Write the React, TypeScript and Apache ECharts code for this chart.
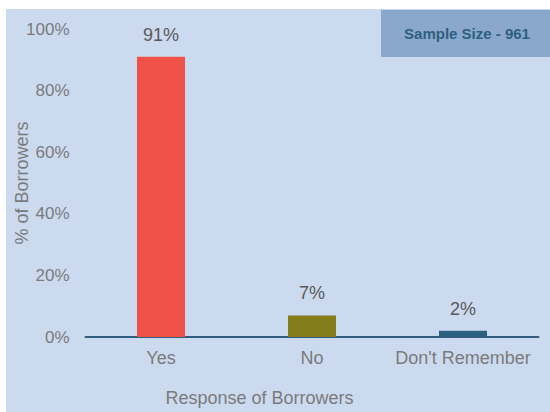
import React, { useEffect, useRef } from "react";
import * as echarts from "echarts";

const categories = ["Yes", "No", "Don't Remember"];
const values = [91, 7, 2];
const barColors = ["#F0524A", "#857D1C", "#2B5F7F"];
const yTicks = [0, 20, 40, 60, 80, 100];
const sampleText = "Sample Size - 961";
const xName = "Response of Borrowers";
const yName = "% of Borrowers";

export default function App() {
  const ref = useRef<HTMLDivElement>(null);
  useEffect(() => {
    if (!ref.current) return;
    const chart = echarts.init(ref.current, null, { renderer: "svg" });
    const font = "'Liberation Sans', Arial, sans-serif";
    chart.setOption({
      animation: false,
      backgroundColor: "#CCDAF0",
      textStyle: { fontFamily: font },
      grid: {
        left: 79.5,
        right: 11.5,
        top: 20,
        bottom: 75,
        containLabel: false,
        outerBoundsMode: "none",
      },
      xAxis: {
        type: "category",
        data: categories,
        axisLine: { show: true, lineStyle: { color: "#2E5F7E", width: 2 } },
        axisTick: { show: false },
        axisLabel: { color: "#7A7A7A", fontSize: 18, margin: 12, interval: 0, fontFamily: font },
        splitLine: { show: false },
      },
      yAxis: {
        type: "value",
        min: yTicks[0],
        max: yTicks[yTicks.length - 1],
        interval: 20,
        axisLine: { show: false },
        axisTick: { show: false },
        splitLine: { show: false },
        axisLabel: {
          color: "#7A7A7A",
          fontSize: 17,
          margin: 16,
          fontFamily: font,
          formatter: (v: number) => v + "%",
        },
      },
      series: [
        {
          type: "bar",
          barWidth: 48,
          data: values.map((v, i) => ({ value: v, itemStyle: { color: barColors[i] } })),
          label: {
            show: true,
            position: "top",
            distance: 13,
            color: "#595959",
            fontSize: 18,
            fontFamily: font,
            formatter: (p: any) => p.value + "%",
          },
        },
      ],
      graphic: [
        {
          type: "rect",
          left: 375,
          top: 1,
          shape: { width: 169, height: 47 },
          style: { fill: "#8AA8CC" },
        },
        {
          type: "text",
          x: 461,
          y: 24.5,
          style: {
            text: sampleText,
            fill: "#2E5F7F",
            font: "bold 15px 'Liberation Sans', Arial, sans-serif",
            align: "center",
            verticalAlign: "middle",
          },
        },
        {
          type: "text",
          x: 253.5,
          y: 389,
          style: {
            text: xName,
            fill: "#7A7A7A",
            font: "18px 'Liberation Sans', Arial, sans-serif",
            align: "center",
            verticalAlign: "middle",
          },
        },
        {
          type: "text",
          x: 16,
          y: 174,
          rotation: Math.PI / 2,
          style: {
            text: yName,
            fill: "#7A7A7A",
            font: "18px 'Liberation Sans', Arial, sans-serif",
            align: "center",
            verticalAlign: "middle",
          },
        },
      ],
    });
    return () => chart.dispose();
  }, []);
  return (
    <div
      ref={ref}
      style={{ position: "absolute", left: 6, top: 9, width: 544, height: 403 }}
    />
  );
}
